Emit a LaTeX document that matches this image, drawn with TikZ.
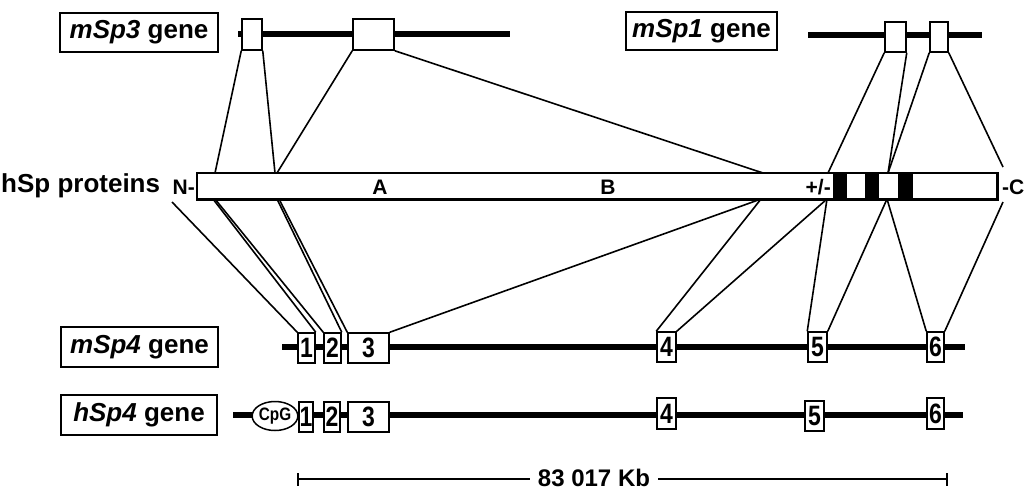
\documentclass[tikz,border=0pt]{standalone}
\usepackage{fontspec}
\usepackage{graphicx}
\setmainfont{Liberation Sans}
\usetikzlibrary{shapes.geometric}
\newcommand{\cnd}[1]{\scalebox{0.82}[1]{#1}}
\begin{document}
\begin{tikzpicture}[x=1pt,y=-1pt,
  lbl/.style={draw, line width=1.5pt, inner sep=0pt, font=\fontsize{26}{26}\selectfont\bfseries},
  geneline/.style={line width=6.5pt},
  exon/.style={draw, fill=white, line width=1.5pt, inner sep=0pt, font=\fontsize{28}{28}\selectfont\bfseries},
  conn/.style={line width=1.6pt},
  dom/.style={font=\fontsize{21}{21}\selectfont\bfseries, inner sep=0pt}
]
\useasboundingbox (0,0) rectangle (1027,491);

% ---------- mSp3 gene ----------
\node[lbl, minimum width=158pt, minimum height=39pt] (l3) at (139,32.5) {\textit{mSp3} gene};
\coordinate (g3a) at (238,34);
\coordinate (g3b) at (510,34);
\draw[geneline] (g3a) -- (g3b);
\node[exon, minimum width=20pt, minimum height=31pt] (a1) at (252,34.5) {};
\node[exon, minimum width=41pt, minimum height=31pt] (a2) at (373.5,34.5) {};

% ---------- mSp1 gene ----------
\node[lbl, minimum width=151pt, minimum height=38pt] (l1) at (701.5,31) {\textit{mSp1} gene};
\coordinate (g1a) at (808,35);
\coordinate (g1b) at (982,35);
\draw[geneline] (g1a) -- (g1b);
\node[exon, minimum width=21pt, minimum height=30pt] (b1) at (895.5,37) {};
\node[exon, minimum width=18pt, minimum height=30pt] (b2) at (939,37) {};

% ---------- protein ----------
\node[draw, line width=1.5pt, fill=white, minimum width=800pt, minimum height=26pt, inner sep=0pt] (prot) at (597,186) {};
\fill (833,173) rectangle (847,199);
\fill (865,173) rectangle (879,199);
\fill (898,173) rectangle (913,199);
\draw[line width=1.5pt] (prot.north west) rectangle (prot.south east);
\node[dom] (dA) at (380,187) {A};
\node[dom] (dB) at (608,187) {B};
\node[dom, anchor=east] (dpm) at (831,187) {+/-};
\node[dom, anchor=west] (dC) at (1002,187) {-C};
\node[dom, anchor=east] (dN) at (195,187) {N-};
\node[anchor=west, inner sep=0pt, font=\fontsize{26}{26}\selectfont\bfseries] (hsp) at (1,186) {hSp proteins};

% protein attachment points
\coordinate (t1) at (215,173);
\coordinate (t2) at (275,173);
\coordinate (t3) at (277,173);
\coordinate (t4) at (763,173);
\coordinate (t5) at (828,173);
\coordinate (t6) at (888,173);
\coordinate (t7) at (1003,167);
\coordinate (u0) at (172,202);
\coordinate (u1) at (213,199);
\coordinate (u2) at (215,199);
\coordinate (u3) at (277,199);
\coordinate (u4) at (279,199);
\coordinate (u5) at (761,199);
\coordinate (u6) at (827,199);
\coordinate (u7) at (887,199);
\coordinate (u8) at (1003,202);

% top connectors
\draw[conn] (a1.south west) -- (t1);
\draw[conn] (a1.south east) -- (t2);
\draw[conn] (a2.south west) -- (t3);
\draw[conn] (a2.south east) -- (t4);
\draw[conn] (b1.south west) -- (t5);
\draw[conn] (b1.south east) -- (t6);
\draw[conn] (b2.south west) -- (t6);
\draw[conn] (b2.south east) -- (t7);

% ---------- mSp4 gene ----------
\node[lbl, minimum width=157pt, minimum height=40pt] (l4) at (139.5,347) {\textit{mSp4} gene};
\coordinate (g4a) at (282,347);
\coordinate (g4b) at (965,347);
\draw[geneline] (g4a) -- (g4b);
\node[exon, minimum width=17pt, minimum height=30pt] (m1) at (306.5,348) {\cnd{1}};
\node[exon, minimum width=17pt, minimum height=30pt] (m2) at (332.5,348) {\cnd{2}};
\node[exon, minimum width=41pt, minimum height=30pt] (m3) at (368.5,348) {\cnd{3}};
\node[exon, minimum width=19pt, minimum height=30pt] (m4) at (666.5,347) {\cnd{4}};
\node[exon, minimum width=19pt, minimum height=30pt] (m5) at (817.5,347) {\cnd{5}};
\node[exon, minimum width=17pt, minimum height=30pt] (m6) at (935.5,347) {\cnd{6}};

% bottom connectors
\draw[conn] (u0) -- (m1.north west);
\draw[conn] (u1) -- (m1.north east);
\draw[conn] (u2) -- (m2.north west);
\draw[conn] (u3) -- (m2.north east);
\draw[conn] (u4) -- (m3.north west);
\draw[conn] (m3.north east) -- (u5);
\draw[conn] (u5) -- (m4.north west);
\draw[conn] (u6) -- (m4.north east);
\draw[conn] (u6) -- (m5.north west);
\draw[conn] (u7) -- (m5.north east);
\draw[conn] (u7) -- (m6.north west);
\draw[conn] (u8) -- (m6.north east);

% ---------- hSp4 gene ----------
\node[lbl, minimum width=156pt, minimum height=40pt] (lh) at (139,415) {\textit{hSp4} gene};
\coordinate (gha) at (233,415);
\coordinate (ghb) at (963,415);
\draw[geneline] (gha) -- (ghb);
\node[ellipse, draw, fill=white, line width=1.5pt, minimum width=40pt, minimum height=29pt, inner sep=0pt, font=\fontsize{18}{18}\selectfont\bfseries] (cpg) at (275,416) {\scalebox{0.85}[1]{CpG}};
\node[exon, minimum width=14pt, minimum height=30pt] (h1) at (306,417) {\cnd{1}};
\node[exon, minimum width=16pt, minimum height=30pt] (h2) at (332,417) {\cnd{2}};
\node[exon, minimum width=41pt, minimum height=30pt] (h3) at (368.5,417) {\cnd{3}};
\node[exon, minimum width=19pt, minimum height=31pt] (h4) at (666.5,413.5) {\cnd{4}};
\node[exon, minimum width=19pt, minimum height=30pt] (h5) at (814.5,416) {\cnd{5}};
\node[exon, minimum width=17pt, minimum height=31pt] (h6) at (935.5,413.5) {\cnd{6}};

% ---------- scale bar ----------
\node[inner sep=0pt, font=\fontsize{24}{24}\selectfont\bfseries] (sc) at (594,478) {83 017 Kb};
\coordinate (s1) at (298,479);
\coordinate (s2) at (947,479);
\draw[line width=2pt] (s1) -- ([xshift=-8pt]sc.west |- s1);
\draw[line width=2pt] ([xshift=8pt]sc.east |- s2) -- (s2);
\draw[line width=2.5pt] ([yshift=-6.5pt]s1) -- ([yshift=6.5pt]s1);
\draw[line width=2.5pt] ([yshift=-6.5pt]s2) -- ([yshift=6.5pt]s2);
\end{tikzpicture}
\end{document}
